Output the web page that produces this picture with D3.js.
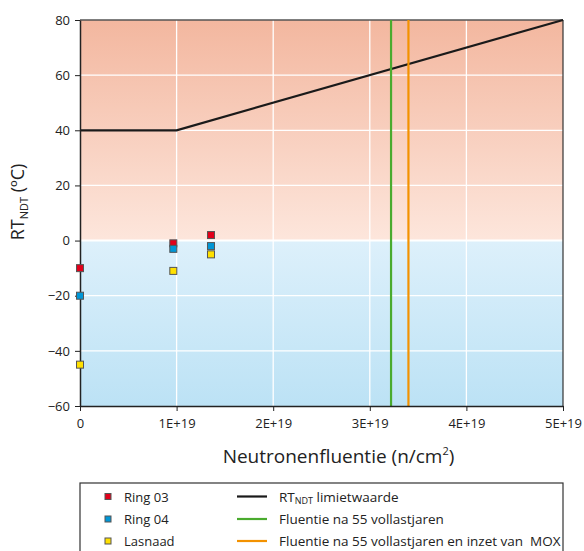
<!DOCTYPE html>
<html><head><meta charset="utf-8">
<script src="https://cdn.jsdelivr.net/npm/d3@7"></script>
<style>body{margin:0;background:#fff}text{font-family:"Open Sans","Noto Sans",sans-serif;fill:#222}</style>
</head><body><svg id="c" width="584" height="551"></svg>
<script>
const xTicks = [0, 1e19, 2e19, 3e19, 4e19, 5e19];
const xTickLabels = ["0", "1E+19", "2E+19", "3E+19", "4E+19", "5E+19"];
const yTicks = [-60, -40, -20, 0, 20, 40, 60, 80];
const ring03 = [[0, -10], [0.966e19, -1], [1.356e19, 2]];
const ring04 = [[0, -20], [0.966e19, -3], [1.356e19, -2]];
const lasnaad = [[0, -45], [0.966e19, -11], [1.356e19, -5]];
const limit = [[0, 40], [1e19, 40], [5e19, 80]];
const fluence55 = 3.22e19;
const fluenceMox = 3.40e19;

const svg = d3.select("#c");
const L = 80, R = 563, T = 20, B = 406;
const x = d3.scaleLinear().domain([0, 5e19]).range([L, R]);
const y = d3.scaleLinear().domain([-60, 80]).range([B, T]);

const defs = svg.append("defs");
const g1 = defs.append("linearGradient").attr("id", "gTop").attr("x1", 0).attr("x2", 0).attr("y1", 0).attr("y2", 1);
g1.append("stop").attr("offset", 0).attr("stop-color", "#f3b79f");
g1.append("stop").attr("offset", 1).attr("stop-color", "#fde6dc");
const g2 = defs.append("linearGradient").attr("id", "gBot").attr("x1", 0).attr("x2", 0).attr("y1", 0).attr("y2", 1);
g2.append("stop").attr("offset", 0).attr("stop-color", "#ddf0fb");
g2.append("stop").attr("offset", 1).attr("stop-color", "#bce2f5");

svg.append("rect").attr("x", L).attr("y", y(80)).attr("width", R - L).attr("height", y(0) - y(80)).attr("fill", "url(#gTop)");
svg.append("rect").attr("x", L).attr("y", y(0)).attr("width", R - L).attr("height", y(-60) - y(0)).attr("fill", "url(#gBot)");

// grid
svg.append("g").selectAll("line").data(xTicks.slice(1, -1)).join("line")
  .attr("x1", d => x(d)).attr("x2", d => x(d)).attr("y1", T).attr("y2", B)
  .attr("stroke", "#fff").attr("stroke-width", 1.3);
svg.append("g").selectAll("line").data(yTicks.slice(1, -1)).join("line")
  .attr("x1", L).attr("x2", R).attr("y1", d => y(d)).attr("y2", d => y(d))
  .attr("stroke", "#fff").attr("stroke-width", d => d === 0 ? 2 : 1.3);

// frame top/right
svg.append("line").attr("x1", L).attr("x2", R).attr("y1", T).attr("y2", T).attr("stroke", "#555").attr("stroke-width", 1.5);
svg.append("line").attr("x1", R).attr("x2", R).attr("y1", T).attr("y2", B).attr("stroke", "#333").attr("stroke-width", 1.2);

// limit line
svg.append("path").datum(limit).attr("d", d3.line().x(d => x(d[0])).y(d => y(d[1])))
  .attr("fill", "none").attr("stroke", "#1a1a1a").attr("stroke-width", 2.2);
// vertical fluence lines
svg.append("line").attr("x1", x(fluence55)).attr("x2", x(fluence55)).attr("y1", T).attr("y2", B).attr("stroke", "#4aab2e").attr("stroke-width", 2.2);
svg.append("line").attr("x1", x(fluenceMox)).attr("x2", x(fluenceMox)).attr("y1", T).attr("y2", B).attr("stroke", "#f39200").attr("stroke-width", 2.2);

// axes
const xa = svg.append("g").attr("transform", `translate(0,${B})`)
  .call(d3.axisBottom(x).tickValues(xTicks).tickFormat((d, i) => xTickLabels[i]).tickSize(5).tickSizeOuter(0));
const ya = svg.append("g").attr("transform", `translate(${L},0)`)
  .call(d3.axisLeft(y).tickValues(yTicks).tickSize(5).tickSizeOuter(0));
[xa, ya].forEach(a => {
  a.select(".domain").attr("stroke", "#222").attr("stroke-width", 1.5);
  a.selectAll(".tick line").attr("stroke", "#222");
  a.selectAll(".tick text").style("font-size", "13px").attr("fill", "#222");
});
xa.selectAll(".tick text").attr("dy", "1.1em");
ya.selectAll(".tick text").attr("x", -10);

// points
const series = [[ring03, "#e2001a"], [ring04, "#0096d6"], [lasnaad, "#ffe000"]];
const ms = 7;
series.forEach(([data, col]) => {
  svg.append("g").selectAll("rect").data(data).join("rect")
    .attr("x", d => x(d[0]) - ms / 2).attr("y", d => y(d[1]) - ms / 2)
    .attr("width", ms).attr("height", ms).attr("fill", col).attr("stroke", "#555").attr("stroke-width", 1);
});

// axis titles
svg.append("text").attr("x", (L + R) / 2 + 17).attr("y", 463).attr("text-anchor", "middle")
  .style("font-size", "19px").html('Neutronenfluentie (n/cm<tspan dy="-8" style="font-size:11px">2</tspan><tspan dy="8">)</tspan>');
svg.append("text").attr("transform", `translate(24,202) rotate(-90)`).attr("text-anchor", "middle")
  .style("font-size", "18px").html('RT<tspan dy="4" style="font-size:11px">NDT</tspan><tspan dy="-4"> (ºC)</tspan>');

// legend
svg.append("rect").attr("x", L).attr("y", 483).attr("width", R - L).attr("height", 80)
  .attr("fill", "#fff").attr("stroke", "#333").attr("stroke-width", 1.2);
const leftItems = [["Ring 03", "#e2001a"], ["Ring 04", "#0096d6"], ["Lasnaad", "#ffe000"]];
const rowY = [496.5, 519, 541];
leftItems.forEach(([lab, col], i) => {
  svg.append("rect").attr("x", 105).attr("y", rowY[i] - 3).attr("width", 6).attr("height", 6)
    .attr("fill", col).attr("stroke", "#555").attr("stroke-width", 1);
  svg.append("text").attr("x", 124).attr("y", rowY[i] + 5).style("font-size", "13px").text(lab);
});
const rightItems = [["RT", "#1a1a1a"], ["Fluentie na 55 vollastjaren", "#4aab2e"], ["Fluentie na 55 vollastjaren en inzet van  MOX", "#f39200"]];
rightItems.forEach(([lab, col], i) => {
  svg.append("line").attr("x1", 237).attr("x2", 267).attr("y1", rowY[i]).attr("y2", rowY[i])
    .attr("stroke", col).attr("stroke-width", 2.2);
  const t = svg.append("text").attr("x", 279).attr("y", rowY[i] + 5).style("font-size", "13.5px").attr("xml:space", "preserve");
  if (i === 0) t.html('RT<tspan dy="2" style="font-size:9px">NDT</tspan><tspan dy="-2"> limietwaarde</tspan>');
  else t.text(lab);
});
</script></body></html>
